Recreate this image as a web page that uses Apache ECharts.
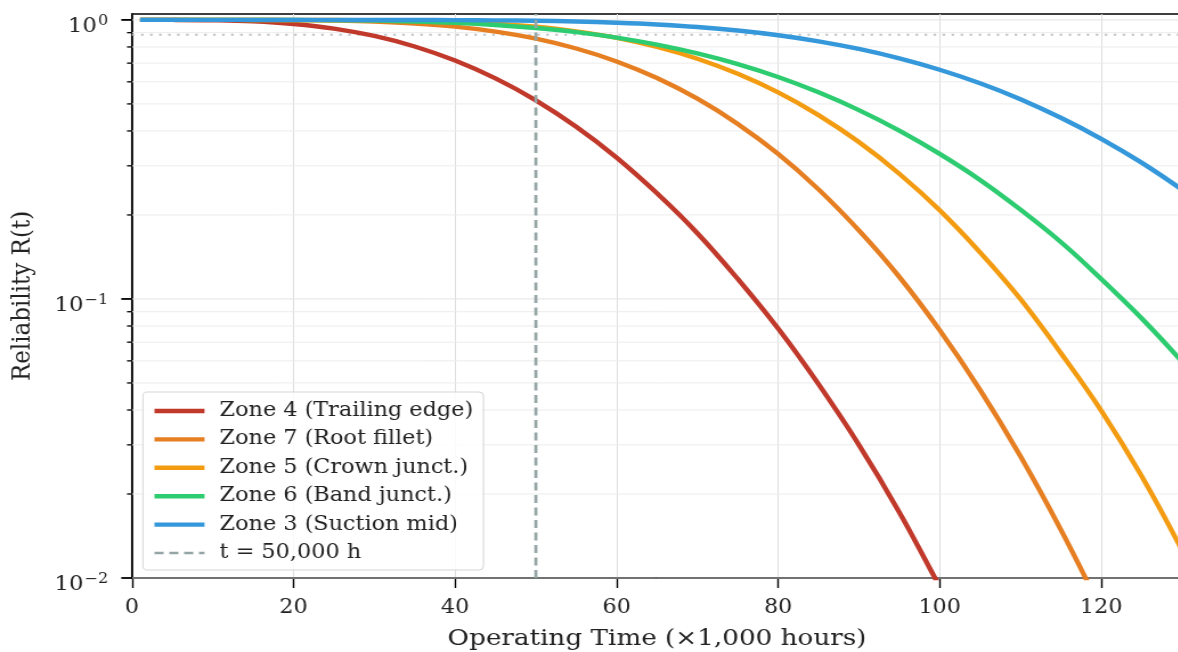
<!DOCTYPE html>
<html>
<head>
<meta charset="utf-8">
<script src="https://cdn.jsdelivr.net/npm/echarts@6/dist/echarts.min.js"></script>
<style>
html,body{margin:0;padding:0;background:#fff;overflow:hidden;}
/* the reference is a little wider than tall, so the chart is drawn narrower and stretched */
#chart{width:1034px;height:652px;transform:scaleX(1.14);transform-origin:0 0;}
</style>
</head>
<body>
<div id="chart"></div>
<script>
// operating time, x1000 h
var time = [1,5,10,15,20,25,30,35,40,45,50,55,60,65,70,75,80,85,90,95,100,105,110,115,120,125,130];
// reliability R(t)
var zone4 = [1,0.9999,0.9976,0.9885,0.967,0.931,0.876,0.803,0.715,0.617,0.515,0.414,0.321,0.239,0.172,0.118,0.0783,0.0495,0.0300,0.0172,0.0093,0.0050,null,null,null,null,null];
var zone7 = [1,1,1,0.9997,0.9984,0.9948,0.9866,0.971,0.946,0.908,0.857,0.790,0.710,0.619,0.522,0.424,0.331,0.247,0.176,0.120,0.0773,0.0472,0.0273,0.0149,0.0077,null,null];
var zone5 = [1,1,1,1,0.9998,0.9992,0.9974,0.993,0.984,0.969,0.945,0.910,0.862,0.800,0.726,0.641,0.550,0.456,0.365,0.281,0.208,0.147,0.100,0.064,0.0398,0.0232,0.0126];
var zone6 = [1,1,1,0.9998,0.9992,0.9975,0.9938,0.987,0.976,0.959,0.935,0.904,0.864,0.815,0.758,0.694,0.624,0.550,0.475,0.401,0.331,0.267,0.209,0.160,0.118,0.0853,0.0597];
var zone3 = [1,1,1,1,1,0.9999,0.9998,0.9994,0.9985,0.9966,0.993,0.987,0.977,0.963,0.943,0.916,0.881,0.838,0.787,0.728,0.663,0.593,0.520,0.446,0.375,0.308,0.2465];
var names = ['Zone 4 (Trailing edge)','Zone 7 (Root fillet)','Zone 5 (Crown junct.)','Zone 6 (Band junct.)','Zone 3 (Suction mid)'];
var colors = ['#c0392b','#e67e22','#f39c12','#2ecc71','#3498db'];
var markName = 't = 50,000 h';
var markTime = 50;
var targetR = 0.885;
var xMin = 0, xMax = 130, xStep = 20;
var yMin = 0.01, yMax = 1.05;
var yMajor = [0.01,0.1,1];
var yMinor = [0.02,0.03,0.04,0.05,0.06,0.07,0.08,0.09,0.2,0.3,0.4,0.5,0.6,0.7,0.8,0.9];

var font = 'DejaVu Serif';
var chart = echarts.init(document.getElementById('chart'));

function pairs(vals){
  var out = [];
  for (var i = 0; i < time.length; i++) {
    if (vals[i] != null) out.push([time[i], vals[i]]);
  }
  return out;
}

//y grid + ticks (major and minor) on the log scale
var yLines = [];
yMajor.forEach(function(v){ yLines.push([xMin, v, 1]); });
yMinor.forEach(function(v){ yLines.push([xMin, v, 0]); });

var series = [
  {
    type:'custom',
    silent:true,
    z:1,
    encode:{x:0, y:1},
    data:yLines,
    renderItem:function(params, api){
      var v = api.value(1), major = api.value(2);
      var a = api.coord([xMin, v]), b = api.coord([xMax, v]);
      var len = major ? 9.4 : 4.4;
      return {type:'group', children:[
        {type:'line', shape:{x1:a[0], y1:a[1], x2:b[0], y2:b[1]}, style:{stroke:major ? '#e3e3e3' : '#ececec', lineWidth:1}},
        {type:'line', shape:{x1:a[0]-len, y1:a[1], x2:a[0], y2:a[1]}, style:{stroke:'#000', lineWidth:major ? 1.8 : 1.3}}
      ]};
    }
  },
  {
    type:'line',
    silent:true,
    symbol:'none',
    z:2,
    data:[[xMin, targetR],[xMax, targetR]],
    lineStyle:{color:'#c0c5c8', width:2, type:[2.3,5.6]}
  }
];
var zones = [zone4, zone7, zone5, zone6, zone3];
var legendData = [];
for (var k = 0; k < zones.length; k++) {
  series.push({
    name:names[k],
    type:'line',
    symbol:'none',
    smooth:0.4,
    z:3,
    data:pairs(zones[k]),
    color:colors[k],
    lineStyle:{color:colors[k], width:4.4}
  });
  legendData.push({name:names[k], lineStyle:{width:4.4}});
}
series.push({
  name:markName,
  type:'line',
  symbol:'none',
  z:4,
  data:[[markTime, yMin],[markTime, yMax]],
  color:'#95a5a6',
  lineStyle:{color:'#95a5a6', width:2.7, type:[8,4.5]}
});
legendData.push({name:markName, lineStyle:{width:2.7, type:[8,5]}});

option = {
  animation:false,
  backgroundColor:'#fff',
  grid:{left:115.8, top:14, width:921, height:564, outerBoundsMode:'none', show:true, borderColor:'#000', borderWidth:1.7},
  legend:{
    orient:'vertical',
    left:125.4,
    top:392,
    padding:[9,9,7,7.9],
    itemWidth:43.9,
    itemHeight:14,
    itemGap:8.4,
    selectedMode:false,
    data:legendData,
    itemStyle:{color:'rgba(0,0,0,0)', borderColor:'rgba(0,0,0,0)', borderWidth:0},
    backgroundColor:'rgba(255,255,255,0.85)',
    borderColor:'#d5d5d5',
    borderWidth:1,
    borderRadius:4,
    textStyle:{fontFamily:font, fontSize:19.6, lineHeight:20, color:'#222', padding:[0,0,0,8.2]}
  },
  xAxis:{
    type:'value',
    min:xMin, max:xMax, interval:xStep,
    name:'Operating Time (\u00d71,000 hours)',
    nameLocation:'middle',
    nameGap:50,
    nameTextStyle:{fontFamily:font, fontSize:23, color:'#222'},
    axisLine:{show:true, lineStyle:{color:'#000', width:1.8}},
    axisTick:{show:true, length:10, lineStyle:{color:'#000', width:1.4}},
    axisLabel:{fontFamily:font, fontSize:19.5, color:'#222', margin:20, showMaxLabel:false},
    splitLine:{show:true, lineStyle:{color:'#dedede', width:1}}
  },
  yAxis:{
    type:'log',
    logBase:10,
    min:yMin, max:yMax,
    name:'Reliability R(t)',
    nameLocation:'middle',
    nameGap:84,
    nameTextStyle:{fontFamily:font, fontSize:23, color:'#222'},
    axisLine:{show:true, onZero:false, lineStyle:{color:'#000', width:1.6}},
    axisTick:{show:false},
    splitLine:{show:false},
    axisLabel:{
      margin:21,
      color:'#222',
      formatter:function(v){
        var e = Math.log(v) / Math.LN10;
        var r = Math.round(e);
        if (Math.abs(e - r) > 1e-6) return '';
        var sup = r < 0 ? '\u2212' + (-r) : '' + r;
        return '{b|10}{s|' + sup + '}';
      },
      rich:{
        b:{fontFamily:font, fontSize:20, lineHeight:20, padding:[7,0,0,0], verticalAlign:'top', color:'#222'},
        s:{fontFamily:font, fontSize:14, lineHeight:14, padding:[4,0,0,1], verticalAlign:'top', color:'#222'}
      }
    }
  },
  series:series
};
chart.setOption(option);
</script>
</body>
</html>
